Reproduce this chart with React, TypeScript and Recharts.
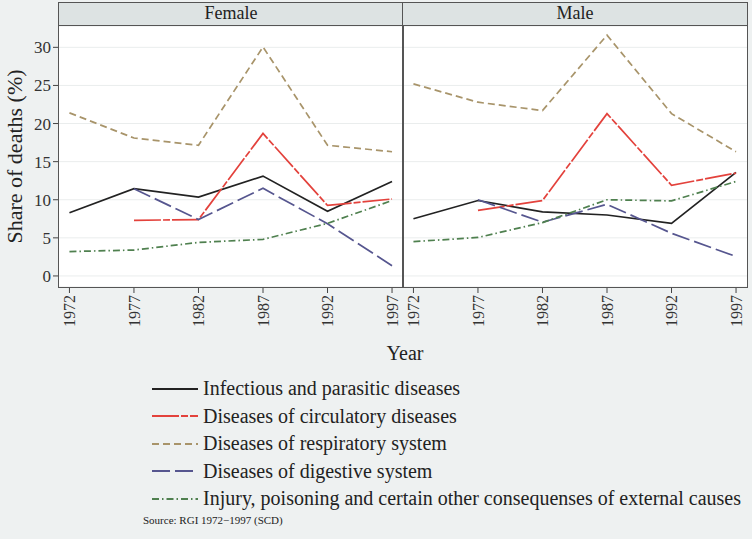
import { LineChart, Line, XAxis, YAxis, CartesianGrid } from "recharts";

const years = [1972, 1977, 1982, 1987, 1992, 1997];
const yTicks = [0, 5, 10, 15, 20, 25, 30];

const seriesNames = [
  "Infectious and parasitic diseases",
  "Diseases of circulatory diseases",
  "Diseases of respiratory system",
  "Diseases of digestive system",
  "Injury, poisoning and certain other consequenses of external causes",
];

// female values (%), null = no observation
const femaleInfectious = [8.3, 11.45, 10.35, 13.1, 8.5, 12.4];
const femaleCirculatory = [null, 7.3, 7.4, 18.7, 9.25, 10.1];
const femaleRespiratory = [21.4, 18.1, 17.15, 30.05, 17.15, 16.3];
const femaleDigestive = [null, 11.45, 7.4, 11.5, 6.85, 1.35];
const femaleInjury = [3.2, 3.4, 4.4, 4.8, 6.9, 9.9];

// male values (%)
const maleInfectious = [7.5, 9.9, 8.4, 8.0, 6.9, 13.6];
const maleCirculatory = [null, 8.6, 9.9, 21.3, 11.9, 13.5];
const maleRespiratory = [25.2, 22.8, 21.7, 31.6, 21.3, 16.3];
const maleDigestive = [null, 10.0, 7.05, 9.4, 5.6, 2.55];
const maleInjury = [4.5, 5.05, 7.0, 10.0, 9.85, 12.4];

const keys = ["infectious", "circulatory", "respiratory", "digestive", "injury"];
const colors = ["#222222", "#e3423c", "#a8946a", "#56568f", "#4f804f"];
const dashes = ["", "27 2 7 2", "7 4", "18 5", "7 3 1.5 3"];

const build = (cols: (number | null)[][]) =>
  years.map((year, i) => {
    const row: Record<string, number | null> = { year };
    keys.forEach((k, j) => (row[k] = cols[j][i]));
    return row;
  });

const femaleData = build([femaleInfectious, femaleCirculatory, femaleRespiratory, femaleDigestive, femaleInjury]);
const maleData = build([maleInfectious, maleCirculatory, maleRespiratory, maleDigestive, maleInjury]);

const FONT = "'Liberation Serif', 'Times New Roman', serif";
const TOP = 26;
const PLOT_H = 261;
const X_AXIS_H = 69;

const XTick = ({ x, y, payload }: any) => (
  <g transform={`translate(${x},${y})`}>
    <text transform="rotate(-90)" x={0} y={0} dy="0.35em" textAnchor="end" fontSize={16} fill="#333" fontFamily={FONT}>
      {payload.value}
    </text>
  </g>
);

function Panel({ data, showY }: { data: Record<string, number | null>[]; showY: boolean }) {
  return (
    <LineChart
      width={showY ? 404 : 349}
      height={PLOT_H + X_AXIS_H}
      data={data}
      margin={{ top: 0, right: showY ? 1 : 5, left: 0, bottom: 0 }}
    >
      <CartesianGrid vertical={false} stroke="#eaeded" />
      <XAxis
        dataKey="year"
        type="number"
        domain={[1971.19, 1997.85]}
        ticks={years}
        height={X_AXIS_H}
        axisLine={false}
        tickLine={{ stroke: "#444" }}
        tickSize={6}
        tickMargin={2}
        tick={<XTick />}
        interval={0}
      />
      <YAxis
        hide={!showY}
        width={59}
        domain={[-1.45, 32.8]}
        ticks={yTicks}
        allowDataOverflow
        axisLine={false}
        tickLine={{ stroke: "#444" }}
        tick={{ fontSize: 17, fill: "#333", fontFamily: FONT }}
        label={{
          value: "Share of deaths (%)",
          angle: -90,
          position: "insideLeft",
          offset: 14,
          style: { textAnchor: "middle", fontSize: 22, fill: "#222", fontFamily: FONT },
        }}
      />
      {keys.map((k, j) => (
        <Line
          key={k}
          dataKey={k}
          type="linear"
          stroke={colors[j]}
          strokeWidth={1.7}
          strokeDasharray={dashes[j] || undefined}
          dot={false}
          isAnimationActive={false}
        />
      ))}
    </LineChart>
  );
}

const stripStyle: React.CSSProperties = {
  position: "absolute",
  top: 2,
  height: 24,
  background: "#dde3e3",
  border: "1.5px solid #555",
  fontSize: 18,
  lineHeight: "21px",
  textAlign: "center",
  color: "#222",
  boxSizing: "border-box",
};

export default function App() {
  return (
    <div
      style={{
        position: "fixed",
        left: 0,
        top: 0,
        width: 752,
        height: 539,
        background: "#eef1f1",
        fontFamily: FONT,
        overflow: "hidden",
      }}
    >
      <div style={{ ...stripStyle, left: 58, width: 346 }}>Female</div>
      <div style={{ ...stripStyle, left: 402, width: 346 }}>Male</div>

      <div style={{ position: "absolute", left: 59, top: TOP, width: 344, height: PLOT_H, background: "#fff" }} />
      <div style={{ position: "absolute", left: 403, top: TOP, width: 344, height: PLOT_H, background: "#fff" }} />

      <div style={{ position: "absolute", left: 0, top: TOP }}>
        <Panel data={femaleData} showY />
      </div>
      <div style={{ position: "absolute", left: 403, top: TOP }}>
        <Panel data={maleData} showY={false} />
      </div>

      <div
        style={{
          position: "absolute",
          left: 58,
          top: TOP - 1,
          width: 690,
          height: PLOT_H + 2,
          border: "1.5px solid #555",
          boxSizing: "border-box",
          pointerEvents: "none",
        }}
      />
      <div style={{ position: "absolute", left: 402, top: TOP - 1, width: 1.5, height: PLOT_H + 2, background: "#555" }} />

      <div style={{ position: "absolute", left: 0, width: 752, top: 342, textAlign: "center", fontSize: 20, color: "#222", paddingLeft: 58, boxSizing: "border-box" }}>
        Year
      </div>

      <div style={{ position: "absolute", left: 152, top: 375 }}>
        {seriesNames.map((name, j) => (
          <div key={name} style={{ display: "flex", alignItems: "center", height: 27.5 }}>
            <svg width={46} height={10} style={{ marginRight: 5 }}>
              <line x1={0} y1={5} x2={46} y2={5} stroke={colors[j]} strokeWidth={1.8} strokeDasharray={dashes[j] || undefined} />
            </svg>
            <span style={{ fontSize: 20, color: "#222", whiteSpace: "nowrap" }}>{name}</span>
          </div>
        ))}
      </div>

      <div style={{ position: "absolute", left: 143, top: 514, fontSize: 11, color: "#222" }}>
        Source: RGI 1972−1997 (SCD)
      </div>
    </div>
  );
}
